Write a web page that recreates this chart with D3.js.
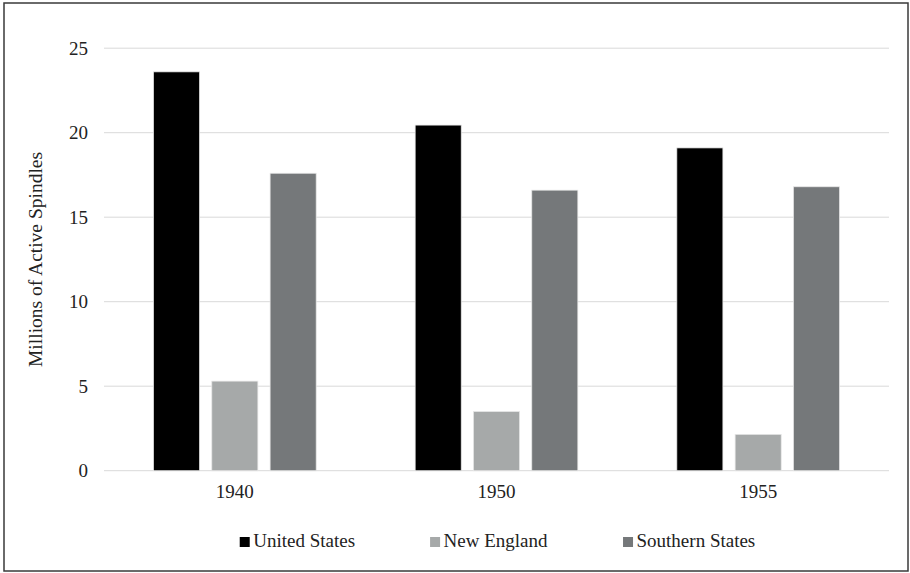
<!DOCTYPE html>
<html>
<head>
<meta charset="utf-8">
<script src="https://d3js.org/d3.v7.min.js"></script>
<style>
  body { margin: 0; background: #fff; }
  svg text { font-family: "Liberation Serif", "Times New Roman", serif; fill: #222; }
</style>
</head>
<body>
<svg width="910" height="573" class="bar-chart"></svg>
<script>
  // data
  const years = ["1940", "1950", "1955"];
  const seriesNames = ["United States", "New England", "Southern States"];
  const unitedStates = [23.6, 20.45, 19.1];
  const newEngland = [5.3, 3.5, 2.15];
  const southernStates = [17.6, 16.6, 16.8];
  const yTicks = [0, 5, 10, 15, 20, 25];
  const colors = ["#000000", "#a6a9a9", "#75787a"];

  const seriesValues = [unitedStates, newEngland, southernStates];

  const svg = d3.select(".bar-chart");
  const W = +svg.attr("width");
  const H = +svg.attr("height");

  // outer frame
  svg.append("rect")
    .attr("x", 4).attr("y", 3)
    .attr("width", W - 6).attr("height", H - 5)
    .attr("fill", "#fff")
    .attr("stroke", "#3a3a3a")
    .attr("stroke-width", 1.5);

  const plotLeft = 104, plotRight = 889, plotTop = 48.2, plotBottom = 470.7;

  const x = d3.scaleBand().domain(years).range([plotLeft, plotRight]);
  const xInner = d3.scaleBand().domain(seriesNames)
    .range([49.5, x.bandwidth() - 49.5]).paddingInner(0.21);
  const y = d3.scaleLinear().domain([0, 25]).range([plotBottom, plotTop]);

  // gridlines
  svg.append("g")
    .selectAll("line")
    .data(yTicks)
    .enter().append("line")
    .attr("x1", plotLeft).attr("x2", plotRight)
    .attr("y1", d => y(d)).attr("y2", d => y(d))
    .attr("stroke", "#d9d9d9")
    .attr("stroke-width", 1);

  // y axis labels
  const yAxis = svg.append("g")
    .attr("transform", "translate(" + plotLeft + ",0)")
    .call(d3.axisLeft(y).tickValues(yTicks).tickSize(0).tickPadding(16));
  yAxis.select(".domain").remove();
  yAxis.selectAll("text")
    .style("font-family", "Liberation Serif, serif")
    .style("font-size", "19px")
    .attr("fill", "#222");

  // x axis labels
  const xAxis = svg.append("g")
    .attr("transform", "translate(0," + plotBottom + ")")
    .call(d3.axisBottom(x).tickSize(0).tickPadding(14));
  xAxis.select(".domain").remove();
  xAxis.selectAll("text")
    .style("font-family", "Liberation Serif, serif")
    .style("font-size", "19px")
    .attr("fill", "#222");

  // bars
  seriesNames.forEach((name, si) => {
    svg.append("g")
      .selectAll("rect")
      .data(years.map((yr, i) => ({year: yr, value: seriesValues[si][i]})))
      .enter().append("rect")
      .attr("x", d => x(d.year) + xInner(name))
      .attr("y", d => y(d.value))
      .attr("width", xInner.bandwidth())
      .attr("height", d => plotBottom - y(d.value))
      .attr("fill", colors[si])
      .attr("stroke", "#e6e6e6")
      .attr("stroke-width", 0.75);
  });

  // y axis title
  svg.append("text")
    .attr("transform", "translate(42," + ((plotTop + plotBottom) / 2) + ") rotate(-90)")
    .attr("text-anchor", "middle")
    .style("font-size", "19.5px")
    .text("Millions of Active Spindles");

  // legend
  const legend = svg.append("g").attr("transform", "translate(0,547)");
  const items = legend.selectAll("g")
    .data(seriesNames)
    .enter().append("g");
  items.append("rect")
    .attr("y", -10).attr("width", 10).attr("height", 10)
    .attr("fill", (d, i) => colors[i]);
  items.append("text")
    .attr("x", 13.5)
    .style("font-size", "19px")
    .text(d => d);

  let widths = [];
  items.each(function() { widths.push(this.getBBox().width); });
  const gap = 75;
  const total = d3.sum(widths) + gap * (widths.length - 1);
  let cx = (plotLeft + plotRight) / 2 + 1 - total / 2;
  items.attr("transform", (d, i) => {
    const t = "translate(" + cx + ",0)";
    cx += widths[i] + gap;
    return t;
  });
</script>
</body>
</html>
